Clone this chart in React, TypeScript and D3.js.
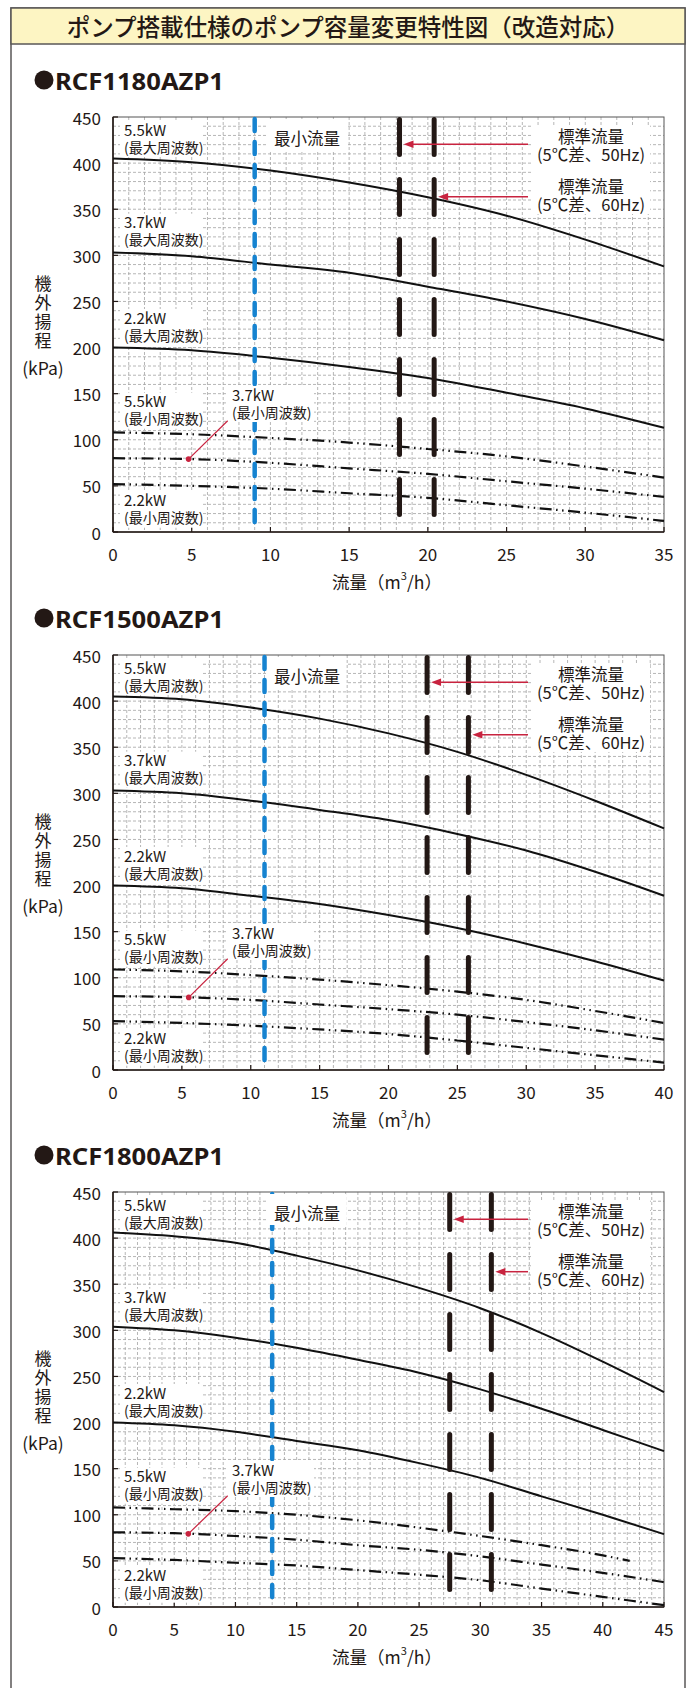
import React from "react";
import * as d3 from "d3";

// ---- data ----
const pageTitle = "ポンプ搭載仕様のポンプ容量変更特性図（改造対応）";
const models = ["RCF1180AZP1", "RCF1500AZP1", "RCF1800AZP1"];
const xMaxes = [35, 40, 45];
const yTicks = [0, 50, 100, 150, 200, 250, 300, 350, 400, 450];

// RCF1180AZP1
const flow1180 = [0, 5, 10, 15, 20, 25, 30, 35];
const max55_1180 = [405, 401, 392, 379, 363, 343, 317, 288];
const max37_1180 = [303, 299, 290, 281, 266, 250, 231, 208];
const max22_1180 = [200, 197, 189, 179, 167, 151, 134, 113];
const min55_1180 = [108, 106, 102, 97, 90, 82, 71, 59];
const min37_1180 = [80, 79, 75, 69, 63, 55, 47, 38];
const min22_1180 = [52, 50, 47, 42, 37, 29, 21, 12];

// RCF1500AZP1
const flow1500 = [0, 5, 10, 15, 20, 25, 30, 35, 40];
const max55_1500 = [405, 402, 393, 381, 365, 345, 320, 292, 262];
const max37_1500 = [303, 300, 292, 282, 271, 256, 238, 215, 189];
const max22_1500 = [200, 197, 189, 180, 168, 154, 137, 118, 97];
const min55_1500 = [109, 107, 103, 98, 92, 85, 76, 64, 51];
const min37_1500 = [80, 79, 76, 71, 66, 60, 52, 43, 33];
const min22_1500 = [53, 51, 48, 44, 39, 32, 24, 16, 8];

// RCF1800AZP1
const flow1800 = [0, 5, 10, 15, 20, 25, 30, 35, 40, 45];
const flow1800min55 = [0, 5, 10, 15, 20, 25, 30, 35, 40, 42.2];
const max55_1800 = [406, 402, 395, 381, 365, 346, 324, 297, 266, 233];
const max37_1800 = [304, 300, 292, 281, 268, 254, 236, 215, 192, 169];
const max22_1800 = [200, 197, 190, 180, 170, 156, 140, 120, 100, 79];
const min55_1800 = [108, 106, 104, 100, 94, 86, 77, 67, 56, 50];
const min37_1800 = [81, 80, 77, 73, 67, 62, 55, 46, 37, 27];
const min22_1800 = [53, 51, 48, 45, 40, 35, 29, 20, 11, 2];

const minFlow = [9, 11, 13];
const stdFlow50 = [18.2, 22.8, 27.5];
const stdFlow60 = [20.4, 25.8, 30.9];
const pointerFlow = [4.8, 5.5, 6.15];

const maxLabel = "(最大周波数)";
const minLabel = "(最小周波数)";
const stdLabels = ["(5℃差、50Hz)", "(5℃差、60Hz)"];

// ---- layout ----
const W = 695;
const H = 1688;
const plotLeft = 113;
const plotRight = 664;
const plotH = 415;
const tops = [117, 655, 1192];
const FONT = '"Noto Sans CJK JP", "Noto Sans", sans-serif';
const INK = "#231815";
const BLUE = "#1683d0";
const RED = "#c8233f";

const chartSeries = [
  [
    { flow: flow1180, head: max55_1180, min: false },
    { flow: flow1180, head: max37_1180, min: false },
    { flow: flow1180, head: max22_1180, min: false },
    { flow: flow1180, head: min55_1180, min: true },
    { flow: flow1180, head: min37_1180, min: true },
    { flow: flow1180, head: min22_1180, min: true },
  ],
  [
    { flow: flow1500, head: max55_1500, min: false },
    { flow: flow1500, head: max37_1500, min: false },
    { flow: flow1500, head: max22_1500, min: false },
    { flow: flow1500, head: min55_1500, min: true },
    { flow: flow1500, head: min37_1500, min: true },
    { flow: flow1500, head: min22_1500, min: true },
  ],
  [
    { flow: flow1800, head: max55_1800, min: false },
    { flow: flow1800, head: max37_1800, min: false },
    { flow: flow1800, head: max22_1800, min: false },
    { flow: flow1800min55, head: min55_1800, min: true },
    { flow: flow1800, head: min37_1800, min: true },
    { flow: flow1800, head: min22_1800, min: true },
  ],
];

// two-line label in one text element so the lines sit tight like the print
const SideLabel = ({ x, y, kw, sub, w = 82 }) => (
  <g>
    <rect x={x - 4} y={y - 9} width={w} height={36} fill="#fff" />
    <text x={x} y={y + 5.5} fontSize={15} fill={INK}>
      {kw}
      <tspan x={x} dy={17} fontSize={14}>
        {sub}
      </tspan>
    </text>
  </g>
);

const Chart = ({ idx }) => {
  const top = tops[idx];
  const bottom = top + plotH;
  const xMax = xMaxes[idx];
  const x = d3.scaleLinear().domain([0, xMax]).range([plotLeft, plotRight]);
  const y = d3.scaleLinear().domain([0, 450]).range([bottom, top]);
  const line = d3
    .line<[number, number]>()
    .x((d) => x(d[0]))
    .y((d) => y(d[1]))
    .curve(d3.curveMonotoneX);

  const series = chartSeries[idx];
  const xTicks = d3.range(0, xMax + 1, 5);
  const gridX = d3.range(1, xMax);
  const gridY = d3.range(10, 450, 10);

  // pointer dot sits on the 3.7kW min-frequency curve
  const min37 = series[4];
  const onCurve = d3.scaleLinear().domain(min37.flow).range(min37.head);
  const dotX = x(pointerFlow[idx]);
  const dotY = y(onCurve(pointerFlow[idx]));

  const arrow = (tipX, yy) => (
    <g>
      <line x1={tipX + 9} y1={yy} x2={528} y2={yy} stroke={RED} strokeWidth={1.5} />
      <polygon
        points={`${tipX},${yy} ${tipX + 10},${yy - 3.8} ${tipX + 10},${yy + 3.8}`}
        fill={RED}
      />
    </g>
  );

  return (
    <g fontFamily={FONT}>
      {/* heading */}
      <circle cx={44} cy={top - 37} r={9.5} fill={INK} />
      <text
        x={55}
        y={top - 37}
        fontSize={24}
        fontWeight="bold"
        fontFamily='"Noto Sans", sans-serif'
        dominantBaseline="central"
        textLength={169}
        lengthAdjust="spacingAndGlyphs"
        fill={INK}
      >
        {models[idx]}
      </text>

      {/* grid */}
      <g stroke="#a3a3a3" strokeWidth={0.8} strokeDasharray="3 2">
        {gridX.map((v) => (
          <line key={"gx" + v} x1={x(v)} x2={x(v)} y1={top} y2={bottom} />
        ))}
        {gridY.map((v) => (
          <line key={"gy" + v} x1={plotLeft} x2={plotRight} y1={y(v)} y2={y(v)} />
        ))}
      </g>

      {/* frame + axes */}
      <rect x={plotLeft} y={top} width={plotRight - plotLeft} height={plotH} fill="none" stroke="#555" strokeWidth={1} />
      <line x1={plotLeft} x2={plotLeft} y1={top} y2={bottom} stroke={INK} strokeWidth={1.6} />
      <line x1={plotLeft} x2={plotRight} y1={bottom} y2={bottom} stroke={INK} strokeWidth={1.6} />
      {yTicks.map((v) => (
        <g key={"yt" + v}>
          <line x1={plotLeft} x2={plotLeft + 5} y1={y(v)} y2={y(v)} stroke={INK} strokeWidth={1.2} />
          <text x={101} y={y(v)} textAnchor="end" dominantBaseline="central" fontSize={17} fill={INK}>
            {v}
          </text>
        </g>
      ))}
      {xTicks.map((v) => (
        <g key={"xt" + v}>
          <line x1={x(v)} x2={x(v)} y1={bottom} y2={bottom - 5} stroke={INK} strokeWidth={1.2} />
          <text x={x(v)} y={bottom + 21} textAnchor="middle" dominantBaseline="central" fontSize={17} fill={INK}>
            {v}
          </text>
        </g>
      ))}

      {/* curves */}
      {series.map((s, i) => (
        <path
          key={"c" + i}
          d={line(s.flow.map((f, j) => [f, s.head[j]]))}
          fill="none"
          stroke="#111"
          strokeWidth={s.min ? 2.2 : 2}
          strokeDasharray={s.min ? "12 4.5 1.5 4.5 1.5 4.5" : undefined}
        />
      ))}

      {/* minimum flow */}
      <line
        x1={x(minFlow[idx])}
        x2={x(minFlow[idx])}
        y1={top + 2}
        y2={bottom}
        stroke={BLUE}
        strokeWidth={4.5}
        strokeLinecap="round"
        strokeDasharray="12 11"
      />

      {/* standard flow */}
      {[stdFlow50[idx], stdFlow60[idx]].map((f, i) => (
        <line
          key={"s" + i}
          x1={x(f)}
          x2={x(f)}
          y1={top + 2.5}
          y2={bottom}
          stroke={INK}
          strokeWidth={5}
          strokeLinecap="round"
          strokeDasharray="35 25"
        />
      ))}

      {/* label boxes + labels */}
      <rect x={268} y={top + 2} width={78} height={31} fill="#fff" />
      <text x={307} y={top + 21} textAnchor="middle" dominantBaseline="central" fontSize={16.5} fill={INK}>
        最小流量
      </text>

      <rect x={533} y={top + 8} width={117} height={89} fill="#fff" />
      {stdLabels.map((lab, i) => (
        <text
          key={"std" + i}
          x={591}
          y={top + 25.5 + i * 50}
          textAnchor="middle"
          fontSize={16.5}
          fill={INK}
        >
          標準流量
          <tspan x={591} dy={18.3}>
            {lab}
          </tspan>
        </text>
      ))}
      {arrow(x(stdFlow50[idx]) + 4, top + 27.3)}
      {arrow(x(stdFlow60[idx]) + 4, top + 79.7)}

      <SideLabel x={124} y={top + 13} kw="5.5kW" sub={maxLabel} />
      <SideLabel x={124} y={top + 105.7} kw="3.7kW" sub={maxLabel} />
      <SideLabel x={124} y={top + 201} kw="2.2kW" sub={maxLabel} />
      <SideLabel x={124} y={top + 284.7} kw="5.5kW" sub={minLabel} />
      <SideLabel x={124} y={top + 383.7} kw="2.2kW" sub={minLabel} />
      <SideLabel x={232} y={top + 278} kw="3.7kW" sub={minLabel} w={86} />

      {/* pointer to 3.7kW min curve */}
      <line x1={227.7} y1={top + 303.7} x2={dotX} y2={dotY} stroke={RED} strokeWidth={1.2} />
      <circle cx={dotX} cy={dotY} r={2.8} fill={RED} />

      {/* axis titles */}
      <text
        x={43}
        y={top + 158}
        fontSize={17}
        fill={INK}
        letterSpacing={2}
        style={{ writingMode: "vertical-rl" }}
      >
        機外揚程
      </text>
      <text x={43} y={top + 250} textAnchor="middle" dominantBaseline="central" fontSize={17.5} fill={INK}>
        (kPa)
      </text>
      <text x={387} y={bottom + 49} textAnchor="middle" dominantBaseline="central" fontSize={17.5} fill={INK}>
        流量（m
        <tspan fontSize={11} dy={-6}>3</tspan>
        <tspan dy={6}>/h）</tspan>
      </text>
    </g>
  );
};

const App = () => {
  return (
    <svg
      width={W}
      height={H}
      viewBox={`0 0 ${W} ${H}`}
      style={{ position: "absolute", left: 0, top: 0, background: "#fff" }}
    >
      <rect x={11} y={8} width={674} height={H} fill="#fff" stroke="#595757" strokeWidth={1.5} />
      <rect x={11} y={8} width={674} height={36} fill="#fdf5c3" stroke="#595757" strokeWidth={1.5} />
      <text
        x={348}
        y={26}
        textAnchor="middle"
        dominantBaseline="central"
        fontSize={23.5}
        fontWeight={500}
        fontFamily={FONT}
        fill={INK}
      >
        {pageTitle}
      </text>
      {models.map((m, i) => (
        <Chart key={m} idx={i} />
      ))}
    </svg>
  );
};

export default App;
